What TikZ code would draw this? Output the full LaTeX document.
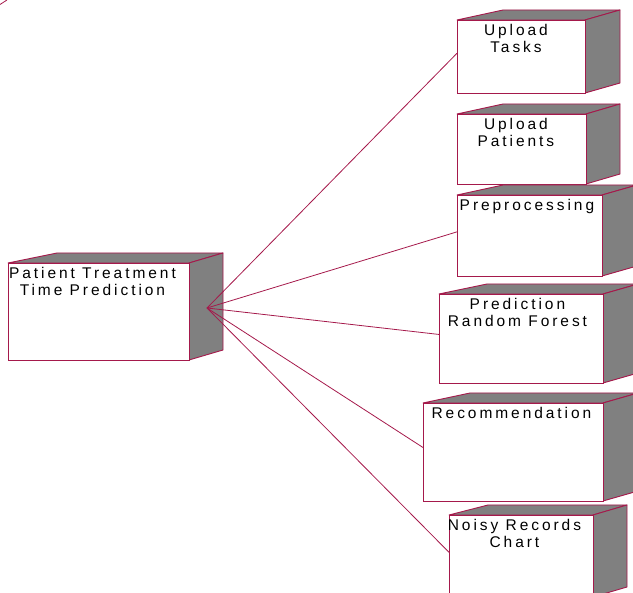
\documentclass[tikz,border=0pt]{standalone}
\usepackage{fontspec}
\setmainfont{Liberation Sans}[LetterSpace=19]
\usetikzlibrary{calc}
\definecolor{rose}{RGB}{165,25,75}
\definecolor{sidegray}{RGB}{128,128,128}
\tikzset{
  front/.style={draw=rose, fill=white, line width=0.9pt, inner sep=0pt, anchor=north west},
  face/.style={draw=rose, fill=sidegray, line width=0.9pt, line join=round},
  lbl/.style={font=\fontsize{15.5}{17}\selectfont, align=center, anchor=north, inner sep=0pt},
  link/.style={draw=rose, line width=0.8pt}
}
% #1 name, #2 L, #3 T, #4 R, #5 B, #6 top-left offset, #7 depth x, #8 text, #9 text x shift
\newcommand\mkbox[9]{%
  \path[face] (#2,#3) -- (#2+#6,#3-10) -- (#4+#7,#3-10) -- (#4,#3) -- cycle;
  \path[face] (#4,#3) -- (#4+#7,#3-10) -- (#4+#7,#5-10) -- (#4,#5) -- cycle;
  \node[front, minimum width={(#4-#2)*1pt}, minimum height={(#5-#3)*1pt}] (#1) at (#2,#3) {};
  \node[lbl] (#1-txt) at ($(#1.north)+(#9,4)$) {#8};
}
\begin{document}
\begin{tikzpicture}[x=1pt,y=-1pt]
\useasboundingbox (0,0) rectangle (633,593);
\clip (0,0) rectangle (633,593);
\mkbox{main}{8}{263}{189}{360}{49}{34}{Patient Treatment\\Time Prediction}{-6.5}
\mkbox{tasks}{457}{20}{585}{93}{46}{35}{Upload\\Tasks}{-5.5}
\mkbox{patients}{457}{114}{586}{184}{46}{34}{Upload\\Patients}{-6}
\mkbox{prep}{457}{195}{602}{276}{46}{35}{Preprocessing}{-3}
\mkbox{pred}{439}{294}{603}{383}{48}{35}{Prediction\\Random Forest}{-4}
\mkbox{recom}{423}{403}{603}{501}{47}{35}{Recommendation}{-2}
\mkbox{noisy}{449}{515}{593}{597}{39}{34}{Noisy Records\\Chart}{-7}
\coordinate (hub) at (207,308);
\foreach \t in {tasks,prep,pred,recom,noisy}{
  \draw[link] (hub) -- ($(\t.north west)!0.45!(\t.south west)$);
}
\coordinate (s1) at (0,4.5);
\coordinate (s2) at (7,0);
\draw[link] (s1) -- (s2);
\end{tikzpicture}
\end{document}
